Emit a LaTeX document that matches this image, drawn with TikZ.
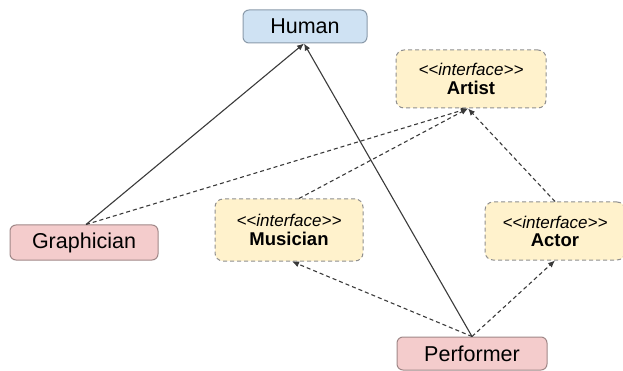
\documentclass[tikz,border=0pt]{standalone}
\usepackage{fontspec}
\setmainfont{Liberation Sans}
\usetikzlibrary{arrows.meta}
\definecolor{hblue}{HTML}{CFE2F3}
\definecolor{hblueb}{HTML}{8A9AAA}
\definecolor{hred}{HTML}{F4CCCC}
\definecolor{hredb}{HTML}{A08888}
\definecolor{hyel}{HTML}{FFF2CC}
\definecolor{hyelb}{HTML}{8F8F8F}
\definecolor{lnc}{HTML}{3A3A3A}
\tikzset{
  cls/.style={draw=#1, line width=1pt, rounded corners=6pt, inner sep=0pt, font=\fontsize{21.5}{24}\selectfont},
  bluebox/.style={cls=hblueb, fill=hblue},
  redbox/.style={cls=hredb, fill=hred},
  ifbox/.style={draw=hyelb, fill=hyel, line width=1pt, dash pattern=on 4pt off 3pt, rounded corners=8pt, inner sep=0pt, align=center},
  inh/.style={draw=lnc, line width=1.1pt, -{Latex[length=7pt,width=6pt]}},
  real/.style={draw=lnc, line width=1.1pt, dash pattern=on 4pt off 3pt, -{Latex[length=7pt,width=6pt]}},
}
\newcommand{\ifname}[1]{{\fontsize{17}{19}\selectfont\itshape {<}{<}interface{>}{>}}\\[4pt]{\fontsize{18.5}{21}\selectfont\bfseries #1}}
\begin{document}
\begin{tikzpicture}[x=1pt,y=-1pt]
\useasboundingbox (0,0) rectangle (623,371);
\node[bluebox, minimum width=124pt, minimum height=33pt] (hum) at (305,26.5) {Human};
\node[ifbox, minimum width=150pt, minimum height=58pt] (art) at (471,79) {\ifname{Artist}};
\node[redbox, minimum width=148pt, minimum height=35pt] (gra) at (84,242.5) {Graphician};
\node[ifbox, minimum width=148pt, minimum height=62pt] (mus) at (289,230) {\ifname{Musician}};
\node[ifbox, minimum width=140pt, minimum height=58pt] (act) at (555,231) {\ifname{Actor}};
\node[redbox, minimum width=150pt, minimum height=33pt] (per) at (472,353.5) {Performer};
\coordinate (graT) at ([xshift=2pt]gra.north);
\coordinate (humB) at ([xshift=-1pt]hum.south);
\coordinate (artB) at ([xshift=-3pt]art.south);
\coordinate (musT) at ([xshift=10pt]mus.north);
\draw[inh] (graT) -- (humB);
\draw[real] (graT) -- (artB);
\draw[real] (musT) -- (artB);
\draw[real] (act.north) -- (artB);
\draw[inh] (per.north) -- (humB);
\draw[real] (per.north) -- ([xshift=3pt]mus.south);
\draw[real] (per.north) -- (act.south);
\end{tikzpicture}
\end{document}
